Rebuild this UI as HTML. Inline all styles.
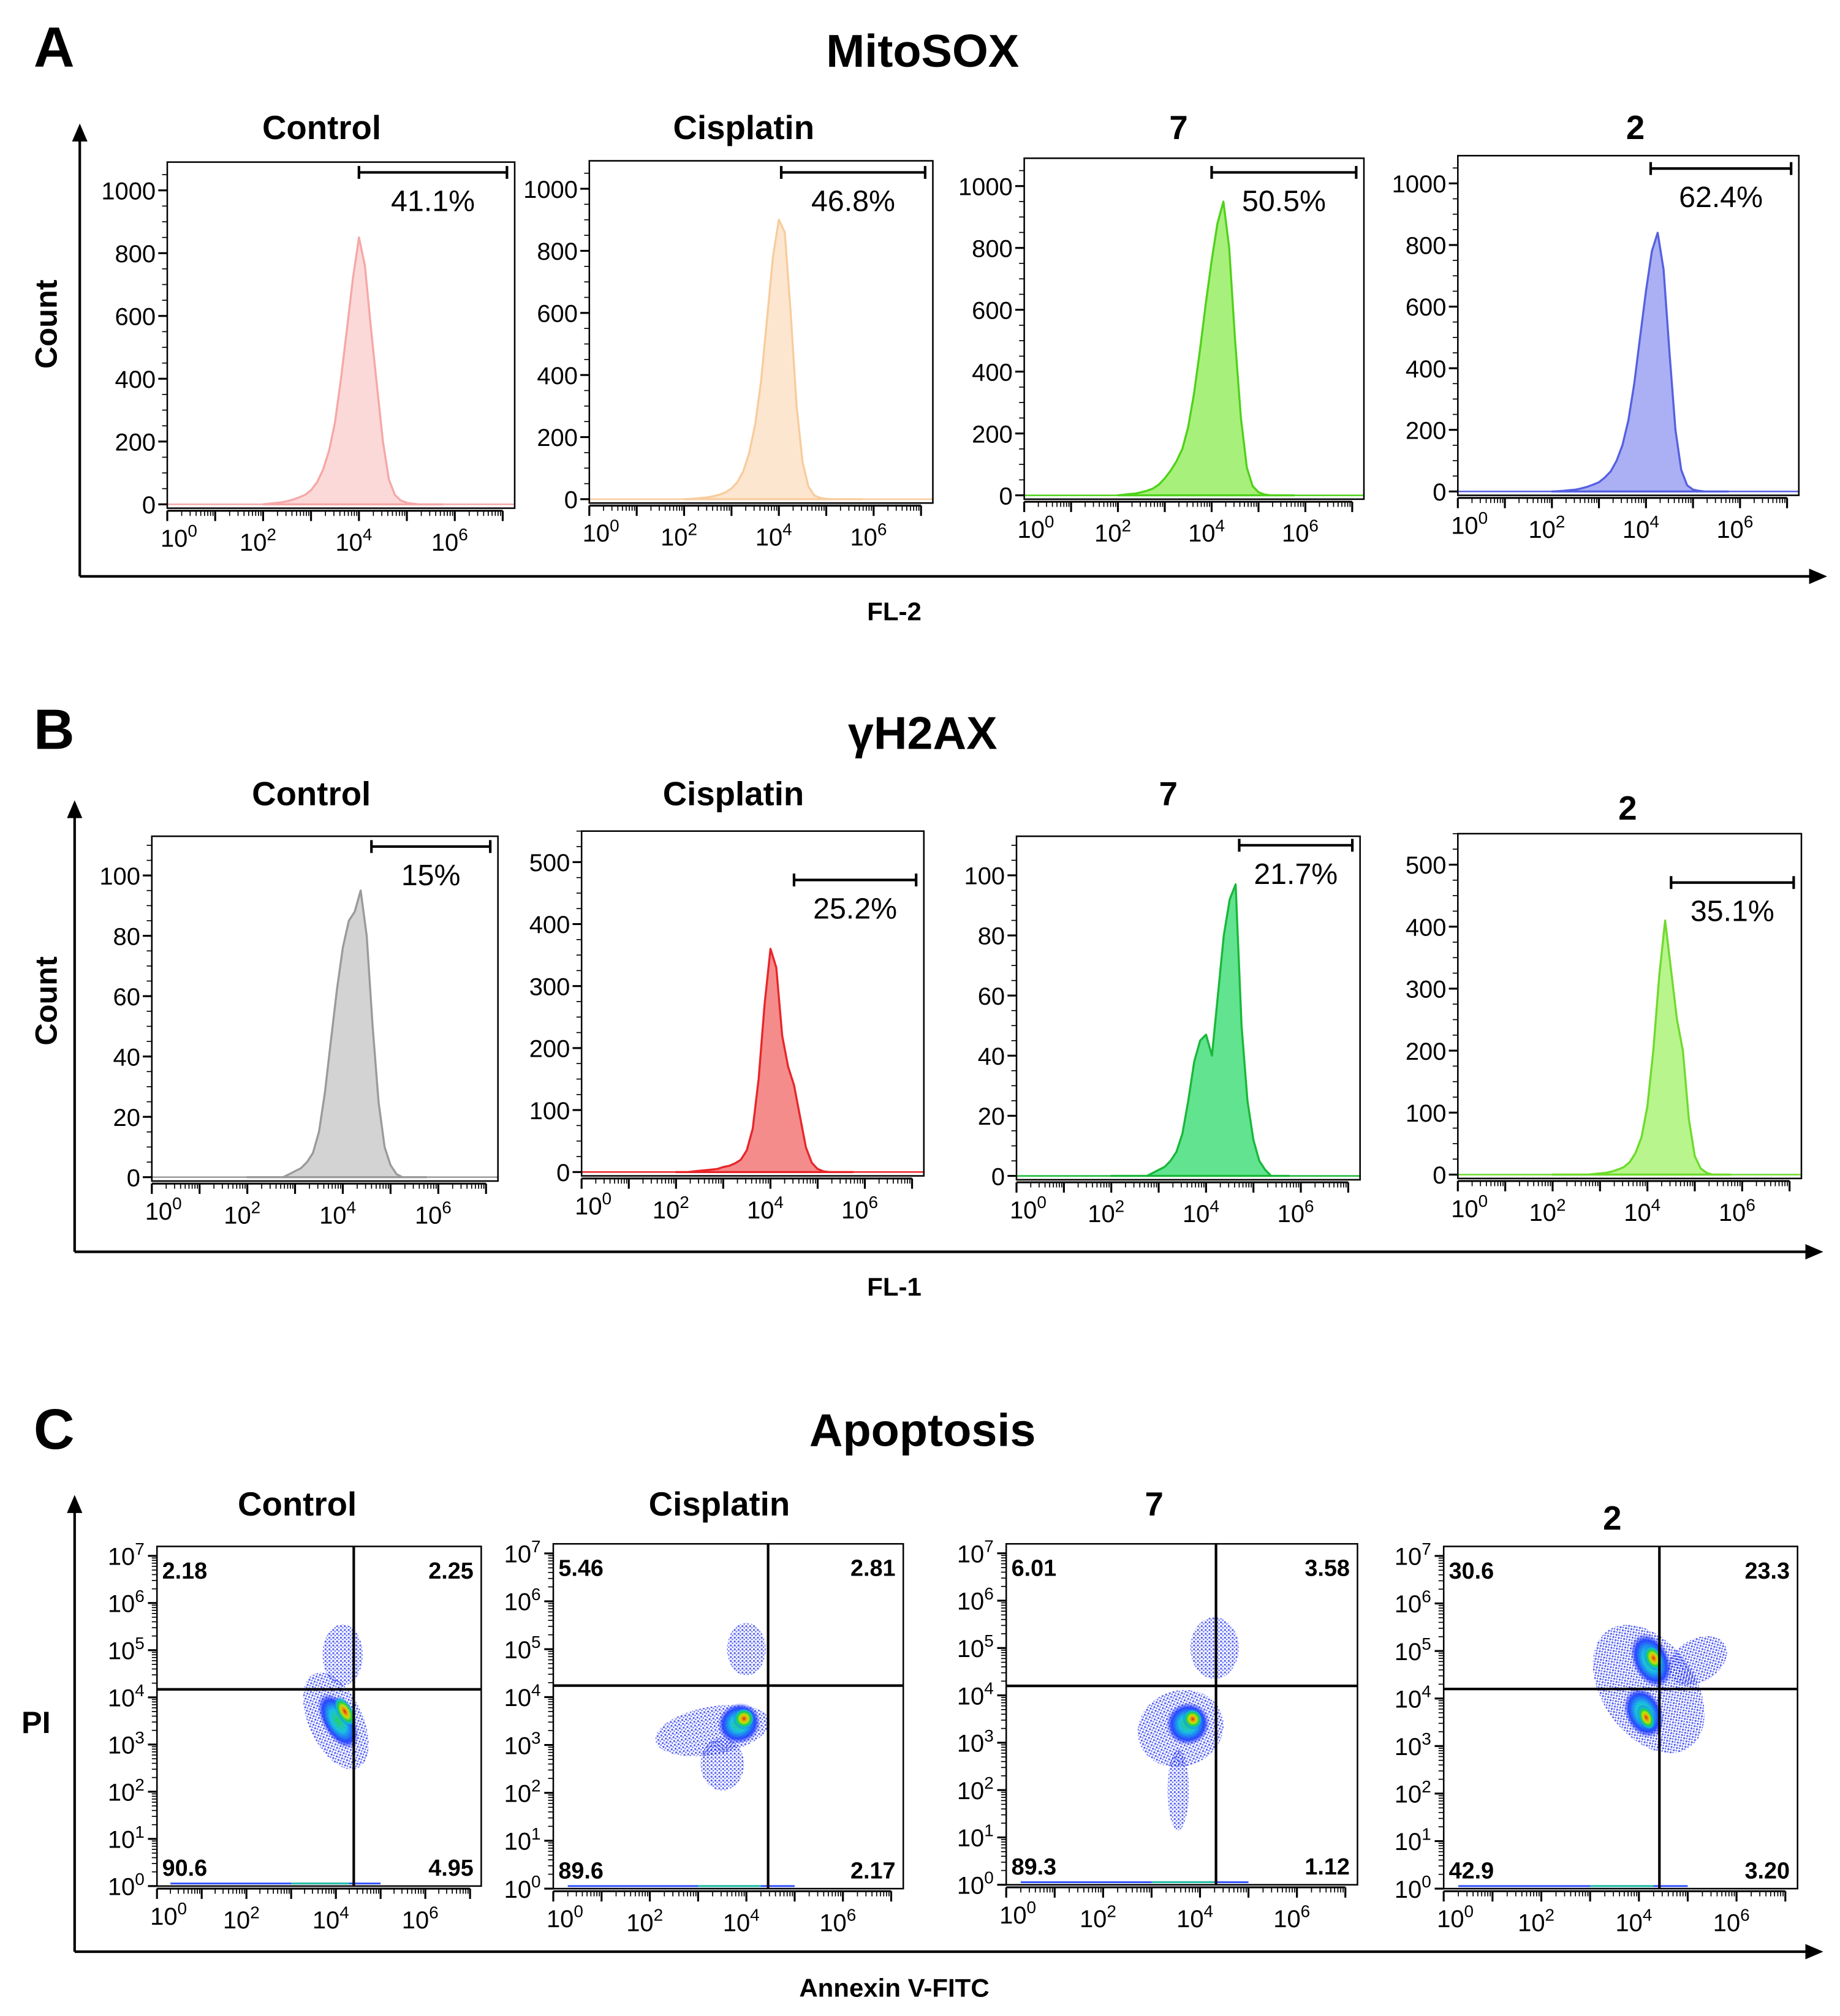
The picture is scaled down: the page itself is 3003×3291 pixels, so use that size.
<!DOCTYPE html>
<html><head><meta charset="utf-8">
<style>
html,body{margin:0;padding:0;background:#fff;}
svg{display:block;font-family:"Liberation Sans",Arial,sans-serif;}
</style></head>
<body>
<svg id="fig" width="3003" height="3291" viewBox="0 0 1430 1567" preserveAspectRatio="none" xmlns="http://www.w3.org/2000/svg">
<defs>
<radialGradient id="hot" cx="50%" cy="50%" r="50%">
<stop offset="0" stop-color="#e02010"/>
<stop offset="0.22" stop-color="#f5a000"/>
<stop offset="0.42" stop-color="#c8e400"/>
<stop offset="0.62" stop-color="#20d040"/>
<stop offset="0.82" stop-color="#10b8e0"/>
<stop offset="1" stop-color="#2040ff" stop-opacity="0"/>
</radialGradient>
<radialGradient id="warm" cx="50%" cy="50%" r="50%">
<stop offset="0" stop-color="#20d060"/>
<stop offset="0.4" stop-color="#10c0e0"/>
<stop offset="0.75" stop-color="#2040ff"/>
<stop offset="1" stop-color="#2030ff" stop-opacity="0"/>
</radialGradient>
<pattern id="dots" width="3" height="3" patternUnits="userSpaceOnUse">
<circle cx="1" cy="1" r="0.8" fill="#1f2ee8"/>
<circle cx="2.4" cy="2.3" r="0.65" fill="#3344ff"/>
</pattern>
<marker id="arr" markerWidth="8" markerHeight="8" refX="4" refY="4" orient="auto"><path d="M0,1 L7,4 L0,7 Z" fill="#000"/></marker>
</defs>
<g id="root"></g>
</svg>
<script>
// ---------- DATA ----------
const histLogs = [2.0,2.125,2.25,2.375,2.5,2.625,2.75,2.875,3.0,3.125,3.25,3.375,3.5,3.625,3.75,3.875,4.0,4.125,4.25,4.375,4.5,4.625,4.75,4.875,5.0,5.125,5.25,5.375,5.5,5.625,5.75];
const mitoControl   = [0,2,4,6,10,15,22,30,45,70,110,170,260,400,560,720,850,760,560,380,200,80,30,12,5,2,0,0,0,0,0];
const mitoCisplatin = [0,1,2,4,6,10,15,22,35,55,90,150,240,380,580,780,900,860,600,300,120,40,12,4,1,0,0,0,0,0,0];
const mitoSeven     = [0,2,4,6,10,15,22,35,55,80,110,150,220,330,470,620,760,880,950,800,500,250,90,30,10,3,0,0,0,0,0];
const mitoTwo       = [0,1,2,4,6,10,15,22,30,45,65,100,150,230,350,500,650,780,840,720,450,200,70,20,6,2,0,0,0,0,0];
const h2Control   = [0,0,0,0,0,0,0,1,2,3,5,8,15,28,45,62,76,85,88,95,80,50,25,10,4,1,0,0,0,0,0];
const h2Cisplatin = [0,0,0,1,2,3,4,5,8,10,14,20,35,70,150,270,360,330,220,170,140,90,40,15,5,1,0,0,0,0,0];
const h2Seven     = [0,0,0,0,0,0,0,1,2,3,5,8,14,25,38,45,47,40,60,80,92,97,50,25,12,5,2,0,0,0,0];
const h2Two       = [0,0,0,0,0,0,0,1,2,3,5,8,12,20,35,60,110,200,320,410,330,250,200,90,30,10,3,0,0,0,0];
const yTicksMito = [0,200,400,600,800,1000];
const yTicksSmall = [0,20,40,60,80,100];
const yTicksLarge = [0,100,200,300,400,500];
const xDecadeLabels = [0,2,4,6];
const gatesMito = ["41.1%","46.8%","50.5%","62.4%"];
const gatesH2 = ["15%","25.2%","21.7%","35.1%"];
const groupNames = ["Control","Cisplatin","7","2"];
// scatter clusters: [logX, logY, spreadX, spreadY, rotationDeg, kind(0 sparse,1 medium,2 dense)]
const scControl   = [[4.0,3.5,0.6,1.1,-25,0],[4.15,4.9,0.45,0.65,0,0],[4.05,3.5,0.35,0.65,-30,1],[4.2,3.7,0.18,0.35,-30,2]];
const scCisplatin = [[3.3,3.3,1.2,0.5,-10,0],[4.0,5.0,0.4,0.55,0,0],[3.5,2.6,0.45,0.55,0,0],[3.85,3.45,0.45,0.42,-30,1],[3.95,3.55,0.22,0.22,-30,2]];
const scSeven     = [[3.6,3.3,0.9,0.8,-20,0],[4.3,5.0,0.5,0.65,0,0],[3.55,2.0,0.22,0.85,0,0],[3.75,3.4,0.45,0.45,-30,1],[3.85,3.5,0.2,0.22,-30,2]];
const scTwo       = [[4.2,4.2,0.95,1.5,-35,0],[5.2,4.8,0.65,0.45,-30,0],[4.25,4.8,0.38,0.6,-25,1],[4.1,3.7,0.38,0.55,-25,1],[4.3,4.85,0.18,0.28,-25,2],[4.15,3.6,0.16,0.28,-25,2]];
const quadControl   = ["2.18","2.25","90.6","4.95"];
const quadCisplatin = ["5.46","2.81","89.6","2.17"];
const quadSeven     = ["6.01","3.58","89.3","1.12"];
const quadTwo       = ["30.6","23.3","42.9","3.20"];
const quadLines = [[4.4,4.17],[4.45,4.24],[4.33,4.2],[4.42,4.2]];

// ---------- LAYOUT ----------
const NS="http://www.w3.org/2000/svg";
const root=document.getElementById('root');
function el(tag,attrs,parent){const e=document.createElementNS(NS,tag);for(const k in attrs)e.setAttribute(k,attrs[k]);(parent||root).appendChild(e);return e;}
function txt(x,y,s,size,weight,anchor,parent){const t=el('text',{x:x,y:y,'font-size':size,'font-weight':weight||'normal','text-anchor':anchor||'middle'},parent);t.textContent=s;return t;}
function pow10(x,y,e,size,parent){const t=el('text',{x:x,y:y,'font-size':size,'text-anchor':'middle'},parent);const a=el('tspan',{},t);a.textContent='10';const b=el('tspan',{dy:-size*0.42,'font-size':size*0.7},t);b.textContent=e;return t;}

const XMAX=7.25;
function xs(box,v){return box[0]+(v/XMAX)*(box[2]-box[0]);}

[["A",42,52,"label-a"],["B",42,582,"label-b"],["C",42,1126,"label-c"]].forEach(a=>{
 const t=txt(a[1],a[2],a[0],44,'bold');
 
 
});
[["MitoSOX",717,52,"title-mitosox"],["γH2AX",717,582,"title-gh2ax"],["Apoptosis",717,1124,"title-apoptosis"]].forEach(a=>{
 const t=txt(a[1],a[2],a[0],36,'bold');
 
 
});
function bigAxes(x,yTop,yBot,xRight,ylab,ylabY,xlab,xlabY,name){
 const g=el('g',{});
 
 
 el('line',{x1:x,y1:yBot,x2:x,y2:yTop+4,stroke:'#000','stroke-width':2,'marker-end':'url(#arr)'},g);
 el('line',{x1:x,y1:yBot,x2:xRight-4,y2:yBot,stroke:'#000','stroke-width':2,'marker-end':'url(#arr)'},g);
 if(ylab==='PI'){txt(28,ylabY,ylab,24,'bold','middle',g);}
 else{const t=txt(0,0,ylab,24,'bold','middle',g);t.setAttribute('transform',`translate(44,${ylabY}) rotate(-90)`);}
 txt(695,xlabY,xlab,20,'bold','middle',g);
}
bigAxes(62,98,448,1418,'Count',252,'FL-2',482,'axes-section-a');
bigAxes(58,624,973,1415,'Count',778,'FL-1',1007,'axes-section-b');
bigAxes(58,1164,1517,1415,'PI',1347,'Annexin V-FITC',1552,'axes-section-c');

function xAxisLog(g,box,size){
 const b=box[3];
 el('line',{x1:box[0],y1:b+2,x2:xs(box,7),y2:b+2,stroke:'#000','stroke-width':1.5},g);
 for(let d=0;d<=7;d++){
  const x=xs(box,d);
  el('line',{x1:x,y1:b+2,x2:x,y2:b+10,stroke:'#000','stroke-width':1.5},g);
  if(d<7)for(let m=2;m<=9;m++){const xm=xs(box,d+Math.log10(m));el('line',{x1:xm,y1:b+2,x2:xm,y2:b+6,stroke:'#000','stroke-width':0.8},g);}
 }
 xDecadeLabels.forEach(d=>pow10(xs(box,d)+(d===0?9:-4),b+30+(d>=2?3:0),String(d),size,g));
}

function histPanel(box,vals,ymax,yticks,color,fill,gate,title,titleX,titleY,name){
 const g=el('g',{});
 
 
 const ys=v=>box[3]-3-(v/ymax)*(box[3]-3-box[1]);
 txt(titleX,titleY,title,26,'bold','middle',g);
 let d=`M${xs(box,histLogs[0])},${ys(0)}`;
 histLogs.forEach((l,i)=>{d+=` L${xs(box,l).toFixed(1)},${ys(vals[i]).toFixed(1)}`;});
 d+=` L${xs(box,histLogs[histLogs.length-1])},${ys(0)} Z`;
 const p=el('path',{d:d,fill:fill,stroke:color,'stroke-width':1.6,'stroke-linejoin':'round'},g);
 
 
 el('line',{x1:box[0],y1:ys(0),x2:box[2],y2:ys(0),stroke:color,'stroke-width':1.2},g);
 el('rect',{x:box[0],y:box[1],width:box[2]-box[0],height:box[3]-box[1],fill:'none',stroke:'#000','stroke-width':1.2},g);
 const step=yticks[1]-yticks[0];
 for(let v=0;v<=ymax;v+=step/4){const y=ys(v);el('line',{x1:box[0]-(v%step===0?7:4),y1:y,x2:box[0],y2:y,stroke:'#000','stroke-width':v%step===0?1.5:0.8},g);}
 yticks.forEach(v=>txt(box[0]-9,ys(v)+7,String(v),19,'normal','end',g));
 xAxisLog(g,box,19);
 const gx1=xs(box,gate[0]),gx2=box[2]-6,gy=gate[1];
 const gg=el('g',{},g);
 
 
 el('line',{x1:gx1,y1:gy,x2:gx2,y2:gy,stroke:'#000','stroke-width':2},gg);
 el('line',{x1:gx1,y1:gy-5,x2:gx1,y2:gy+5,stroke:'#000','stroke-width':2},gg);
 el('line',{x1:gx2,y1:gy-5,x2:gx2,y2:gy+5,stroke:'#000','stroke-width':2},gg);
 txt((gx1+gx2)/2,gy+30,gate[2],23,'normal','middle',gg);
}

const mitoBoxes=[[130,126,400,395],[458,125,725,391],[796,123,1060,388],[1133,121,1398,385]];
const mitoSeries=[mitoControl,mitoCisplatin,mitoSeven,mitoTwo];
const mitoColors=[['#f6a7a7','#fcd9d9'],['#f8cc9e','#fde6cf'],['#4fd21a','#a8f07c'],['#5560e0','#abb0f4']];
const mitoGateY=[134,134,134,131];
const mitoGateLog=[4.0,4.05,4.0,4.1];
const mitoTitleX=[250,578,916,1271];
mitoBoxes.forEach((b,i)=>histPanel(b,mitoSeries[i],1090,yTicksMito,mitoColors[i][0],mitoColors[i][1],[mitoGateLog[i],mitoGateY[i],gatesMito[i]],groupNames[i],mitoTitleX[i],108,'mitosox-'+['control','cisplatin','7','2'][i]));

const h2Boxes=[[118,650,387,918],[452,646,718,914],[790,650,1057,917],[1133,648,1400,916]];
const h2Series=[h2Control,h2Cisplatin,h2Seven,h2Two];
const h2Max=[113,550,113,550];
const h2Ticks=[yTicksSmall,yTicksLarge,yTicksSmall,yTicksLarge];
const h2Colors=[['#9a9a9a','#d3d3d3'],['#e8262a','#f58c8c'],['#18b83a','#62e38f'],['#6edb2c','#b8f58c']];
const h2GateY=[658,684,657,686];
const h2GateLog=[4.6,4.5,4.7,4.5];
const h2TitleX=[242,570,908,1265];
const h2TitleY=[626,626,626,637];
h2Boxes.forEach((b,i)=>histPanel(b,h2Series[i],h2Max[i],h2Ticks[i],h2Colors[i][0],h2Colors[i][1],[h2GateLog[i],h2GateY[i],gatesH2[i]],groupNames[i],h2TitleX[i],h2TitleY[i],'gh2ax-'+['control','cisplatin','7','2'][i]));

let clipN=0;
function scatterPanel(box,clusters,quads,ql,title,titleX,titleY,name){
 const g=el('g',{});
 
 
 txt(titleX,titleY,title,26,'bold','middle',g);
 const ysl=v=>box[3]-(v/7.2)*(box[3]-box[1]);
 const dx=(box[2]-box[0])/XMAX, dy=(box[3]-box[1])/7.2;
 const cid='clip'+(clipN++);
 const cp=el('clipPath',{id:cid},g);
 el('rect',{x:box[0],y:box[1],width:box[2]-box[0],height:box[3]-box[1]},cp);
 const pg=el('g',{'clip-path':`url(#${cid})`},g);
 clusters.forEach(c=>{
  const cx=xs(box,c[0]),cy=ysl(c[1]);
  const tr=`rotate(${c[4]} ${cx} ${cy})`;
  let e;
  if(c[5]===0){
   e=el('ellipse',{cx:cx,cy:cy,rx:c[2]*dx,ry:c[3]*dy,fill:'url(#dots)',opacity:0.75,transform:tr},pg);
  } else {
   e=el('ellipse',{cx:cx,cy:cy,rx:c[2]*dx,ry:c[3]*dy,fill:c[5]===2?'url(#hot)':'url(#warm)',opacity:0.95,transform:tr},pg);
  }
  
  
 });
 el('line',{x1:xs(box,0.3),y1:box[3]-2,x2:xs(box,5),y2:box[3]-2,stroke:'#3050ff','stroke-width':1.4},pg);
 el('line',{x1:xs(box,3),y1:box[3]-2,x2:xs(box,4.3),y2:box[3]-2,stroke:'#20c0a0','stroke-width':1.4},pg);
 el('rect',{x:box[0],y:box[1],width:box[2]-box[0],height:box[3]-box[1],fill:'none',stroke:'#000','stroke-width':1.2},g);
 const qx=xs(box,ql[0]),qy=ysl(ql[1]);
 const q=el('g',{},g);
 
 
 el('line',{x1:qx,y1:box[1],x2:qx,y2:box[3],stroke:'#000','stroke-width':2},q);
 el('line',{x1:box[0],y1:qy,x2:box[2],y2:qy,stroke:'#000','stroke-width':2},q);
 txt(box[0]+4,box[1]+25,quads[0],18,'bold','start',g);
 txt(box[2]-6,box[1]+25,quads[1],18,'bold','end',g);
 txt(box[0]+4,box[3]-8,quads[2],18,'bold','start',g);
 txt(box[2]-6,box[3]-8,quads[3],18,'bold','end',g);
 for(let d=0;d<=7;d++){
  const y=ysl(d);
  el('line',{x1:box[0]-7,y1:y,x2:box[0],y2:y,stroke:'#000','stroke-width':1.5},g);
  if(d<7)for(let m=2;m<=9;m++){const ym=ysl(d+Math.log10(m));el('line',{x1:box[0]-4,y1:ym,x2:box[0],y2:ym,stroke:'#000','stroke-width':0.8},g);}
  pow10(box[0]-24,y+7,String(d),19,g);
 }
 xAxisLog(g,box,19);
}
const scBoxes=[[122,1202,374,1466],[430,1200,702,1468],[782,1200,1055,1465],[1122,1202,1397,1468]];
const scData=[scControl,scCisplatin,scSeven,scTwo];
const scQuads=[quadControl,quadCisplatin,quadSeven,quadTwo];
const scTitleX=[231,559,897,1253];
const scTitleY=[1178,1178,1178,1189];
scBoxes.forEach((b,i)=>scatterPanel(b,scData[i],scQuads[i],quadLines[i],groupNames[i],scTitleX[i],scTitleY[i],'apoptosis-'+['control','cisplatin','7','2'][i]));
</script>
</body></html>
